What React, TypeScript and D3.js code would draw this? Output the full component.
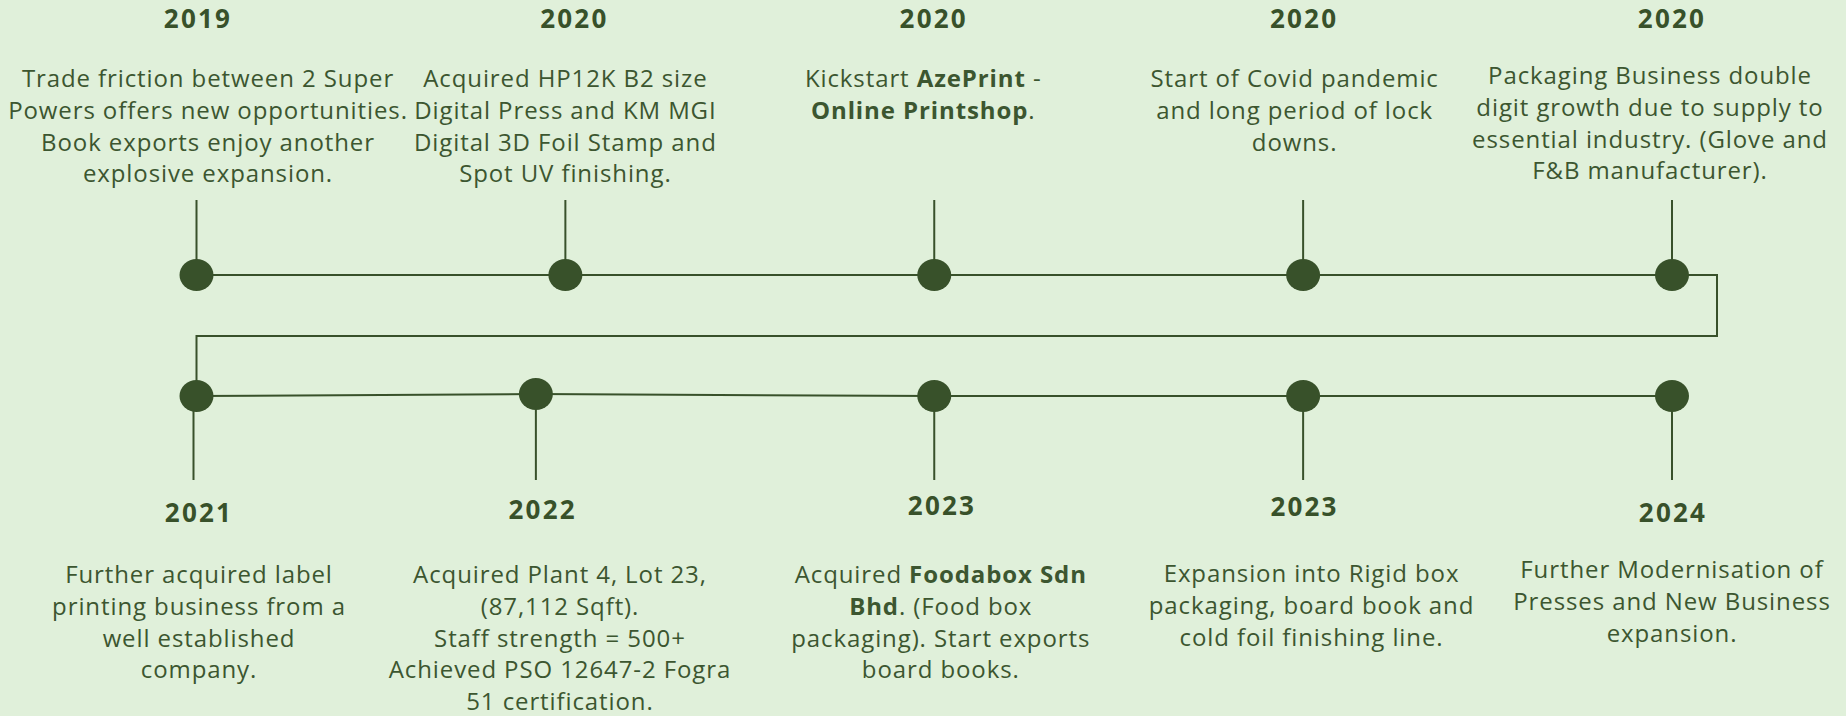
import React from 'react';
import * as d3 from 'd3';

// timeline data
const topYears = ['2019', '2020', '2020', '2020', '2020'];
const bottomYears = ['2021', '2022', '2023', '2023', '2024'];

// each line is a list of [text, bold] segments
type Seg = [string, boolean];
const topNotes: Seg[][][] = [
  [
    [['Trade friction between 2 Super', false]],
    [['Powers offers new opportunities.', false]],
    [['Book exports enjoy another', false]],
    [['explosive expansion.', false]],
  ],
  [
    [['Acquired HP12K B2 size', false]],
    [['Digital Press and KM MGI', false]],
    [['Digital 3D Foil Stamp and', false]],
    [['Spot UV finishing.', false]],
  ],
  [
    [['Kickstart ', false], ['AzePrint', true], [' -', false]],
    [['Online Printshop', true], ['.', false]],
  ],
  [
    [['Start of Covid pandemic', false]],
    [['and long period of lock', false]],
    [['downs.', false]],
  ],
  [
    [['Packaging Business double', false]],
    [['digit growth due to supply to', false]],
    [['essential industry. (Glove and', false]],
    [['F&B manufacturer).', false]],
  ],
];

const bottomNotes: Seg[][][] = [
  [
    [['Further acquired label', false]],
    [['printing business from a', false]],
    [['well established', false]],
    [['company.', false]],
  ],
  [
    [['Acquired Plant 4, Lot 23,', false]],
    [['(87,112 Sqft).', false]],
    [['Staff strength = 500+', false]],
    [['Achieved PSO 12647-2 Fogra', false]],
    [['51 certification.', false]],
  ],
  [
    [['Acquired ', false], ['Foodabox Sdn', true]],
    [['Bhd', true], ['. (Food box', false]],
    [['packaging). Start exports', false]],
    [['board books.', false]],
  ],
  [
    [['Expansion into Rigid box', false]],
    [['packaging, board book and', false]],
    [['cold foil finishing line.', false]],
  ],
  [
    [['Further Modernisation of', false]],
    [['Presses and New Business', false]],
    [['expansion.', false]],
  ],
];

// hand nudges so the slide's slightly uneven placement comes through
const topYearDx = [1.5, 9, -0.5, 1, 0];
const topNoteDx = [11.5, 0, -11, -8.5, -22];
const topNoteDy = [0, 0, 0, 0, -3];
const botDotDx = [0, -29.5, 0, 0, 0];
const botDotDy = [0, -2, 0, 0, 0];
const botYearDx = [2.5, -22.7, 7.7, 1.4, 1];
const botYearDy = [0, -3, -7, -6, 0];
const botNoteDx = [2.5, -5.4, 6.5, 8.4, 0];
const botNoteDy = [0, 0, 0, -1, -5];

const W = 1846;
const H = 716;
const BG = '#e0f0da';
const INK = '#38512a';
const TEXT = '#3c5630';
const FONT = '"Open Sans", Lato, sans-serif';

const topY = 275;
const loopY = 336;
const botY = 396;
const lineH = 31.8;

function Note({ x, y, lines }: { x: number; y: number; lines: Seg[][] }) {
  return (
    <text x={x} y={y} textAnchor="middle" fontFamily={FONT} fontSize={24}
      letterSpacing={0.9} fill={TEXT}>
      {lines.map((segs, i) => (
        <tspan key={i} x={x} y={y + i * lineH}>
          {segs.map(([t, b], j) => (
            <tspan key={j} fontWeight={b ? 700 : 400}>{t}</tspan>
          ))}
        </tspan>
      ))}
    </text>
  );
}

function Year({ x, y, label }: { x: number; y: number; label: string }) {
  return (
    <text x={x} y={y} textAnchor="middle" fontFamily={FONT} fontWeight={700}
      fontSize={26} letterSpacing={2.2} fill={INK}>{label}</text>
  );
}

export default function App() {
  const x = d3.scalePoint<number>()
    .domain(d3.range(topYears.length))
    .range([196.5, 1672]);

  const topPts = topYears.map((_, i) => [x(i)!, topY] as [number, number]);
  const botPts = bottomYears.map((_, i) => [x(i)! + botDotDx[i], botY + botDotDy[i]] as [number, number]);

  const line = d3.line();
  const lastTop = topPts[topPts.length - 1];
  const loopX = lastTop[0] + 45;
  const path = line([
    ...topPts,
    [loopX, topY],
    [loopX, loopY],
    [botPts[0][0], loopY],
    ...botPts,
  ])!;

  return (
    <svg width={W} height={H} style={{ position: 'absolute', left: 0, top: 0, background: BG }}>
      <rect width={W} height={H} fill={BG} />
      <path d={path} fill="none" stroke={INK} strokeWidth={2} />

      {topPts.map(([px, py], i) => (
        <g key={'t' + i}>
          <line x1={px} x2={px} y1={200} y2={py} stroke={INK} strokeWidth={2} />
          <ellipse cx={px} cy={py} rx={17} ry={16} fill={INK} />
          <Year x={px + topYearDx[i]} y={28} label={topYears[i]} />
          <Note x={px + topNoteDx[i]} y={87 + topNoteDy[i]} lines={topNotes[i]} />
        </g>
      ))}

      {botPts.map(([px, py], i) => (
        <g key={'b' + i}>
          <line x1={px - (i === 0 ? 3 : 0)} x2={px - (i === 0 ? 3 : 0)} y1={py} y2={480}
            stroke={INK} strokeWidth={2} />
          <ellipse cx={px} cy={py} rx={17} ry={16} fill={INK} />
          <Year x={x(i)! + botYearDx[i]} y={522 + botYearDy[i]} label={bottomYears[i]} />
          <Note x={x(i)! + botNoteDx[i]} y={583 + botNoteDy[i]} lines={bottomNotes[i]} />
        </g>
      ))}
    </svg>
  );
}
